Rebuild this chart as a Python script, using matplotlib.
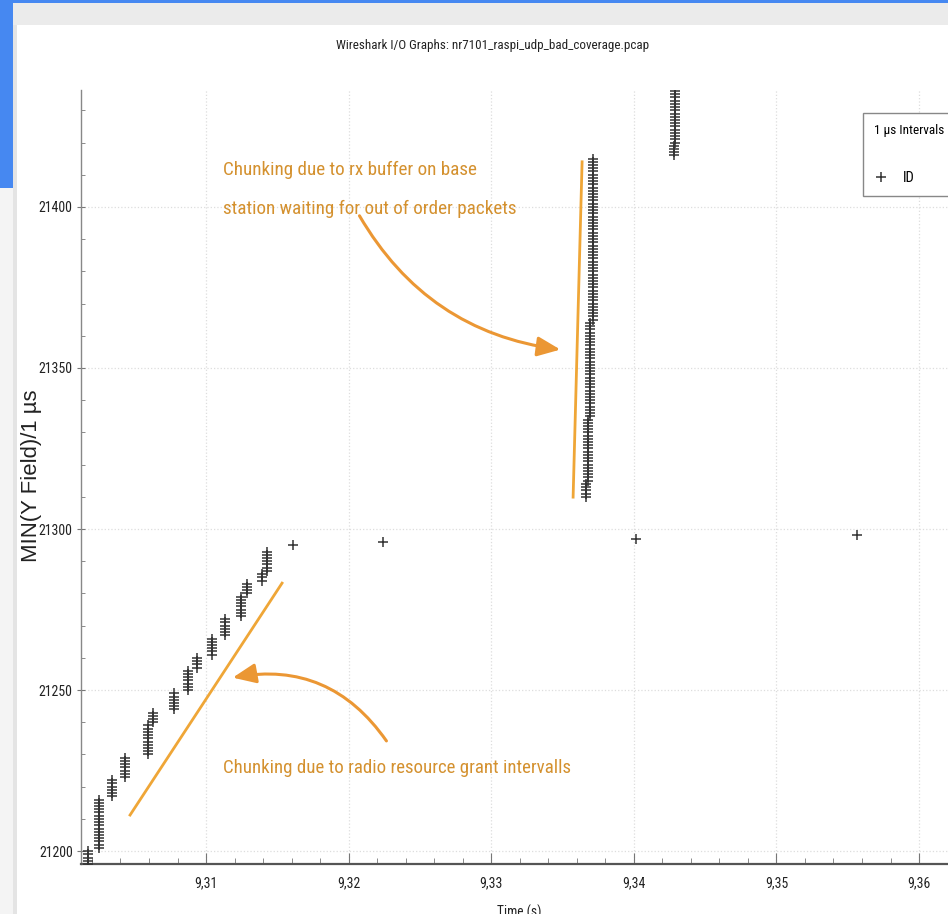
#!/usr/bin/env python

import numpy as np
import matplotlib
matplotlib.use("Agg")
import matplotlib.pyplot as plt
from matplotlib.patches import Rectangle, FancyArrowPatch
from matplotlib.lines import Line2D
from matplotlib.ticker import MultipleLocator, FuncFormatter
from matplotlib.font_manager import fontManager

# chunks of consecutive packet IDs: arrival time, first id, last id
chunk_time = [9.30173, 9.30250, 9.30341, 9.30432, 9.30593, 9.30628, 9.30776,
              9.30874, 9.30937, 9.31042, 9.31133, 9.31245, 9.31288, 9.31393,
              9.31428, 9.31610, 9.32241, 9.34015, 9.35565,
              9.33665, 9.33679, 9.33693, 9.33710, 9.34279, 9.34289]
chunk_first = [21196, 21201, 21217, 21223, 21230, 21240, 21244,
               21250, 21257, 21261, 21267, 21273, 21280, 21284,
               21287, 21295, 21296, 21297, 21298,
               21310, 21315, 21335, 21365, 21416, 21420]
chunk_last = [21200, 21216, 21222, 21229, 21239, 21243, 21249,
              21256, 21260, 21266, 21272, 21279, 21283, 21286,
              21293, 21295, 21296, 21297, 21298,
              21314, 21334, 21364, 21415, 21419, 21440]

title = "Wireshark I/O Graphs: nr7101_raspi_udp_bad_coverage.pcap"
note_top = ["Chunking due to rx buffer on base",
            "station waiting for out of order packets"]
note_bottom = "Chunking due to radio resource grant intervalls"

# hand drawn marks on the slide (data coords)
rx_line_t = [9.33574, 9.33637]
rx_line_v = [21309.9, 21414.0]
grant_line_t = [9.30467, 9.31533]
grant_line_v = [21211.2, 21283.2]
rx_arrow = [(9.32066, 21398.0), (9.33504, 21355.6)]
grant_arrow = [(9.32276, 21233.5), (9.31168, 21253.7)]

names = {f.name for f in fontManager.ttflist}
narrow = None
for fam in ["Liberation Sans Narrow", "Roboto Condensed", "Liberation Sans"]:
    if fam in names:
        narrow = fam
        break
NARROW = [narrow, "DejaVu Sans"] if narrow else ["DejaVu Sans"]
WIDE = ["Liberation Sans", "DejaVu Sans"]

ORANGE = "#efa637"
ARROW = "#eb9734"
TEXT_OR = "#d4912f"
INK = "#333333"

W, H = 948, 914
fig = plt.figure(figsize=(W / 100, H / 100), dpi=100)
renderer = fig.canvas.get_renderer()


def fx(px):
    return px / W


def fy(py):
    return 1 - py / H


def size_for(s, width_px, family=NARROW, rotation=0):
    # font size that makes s span width_px on the screenshot
    tmp = fig.text(0, 0, s, family=family, fontsize=10, rotation=rotation)
    bb = tmp.get_window_extent(renderer)
    tmp.remove()
    w = bb.height if rotation else bb.width
    return 10 * width_px / w


def box(x0, y0, x1, y1, color):
    fig.add_artist(Rectangle((fx(x0), fy(y1)), (x1 - x0) / W, (y1 - y0) / H,
                             transform=fig.transFigure, color=color, lw=0,
                             zorder=0))


# screenshot frame
box(0, 3, W, 25, "#ebebeb")
box(0, 0, W, 3, "#4688f1")
box(0, 188, 13, H, "#f4f4f4")
box(13, 25, 17, H, "#e4e4e4")
box(0, 0, 13, 188, "#4688f1")

ax = fig.add_axes([fx(81), fy(864), fx(948) - fx(81), fy(90) - fy(864)])

t = np.concatenate([np.full(b - a + 1, tt)
                    for tt, a, b in zip(chunk_time, chunk_first, chunk_last)])
ids = np.concatenate([np.arange(a, b + 1)
                      for a, b in zip(chunk_first, chunk_last)])
ax.plot(t, ids, ls="none", marker="+", ms=7, mew=1.1, color=INK, zorder=3)

ax.set_xlim(9.30123, 9.36203)
ax.set_ylim(21196.0, 21436.3)

ax.xaxis.set_major_locator(MultipleLocator(0.01))
ax.xaxis.set_minor_locator(MultipleLocator(0.002))
ax.yaxis.set_major_locator(MultipleLocator(50))
ax.yaxis.set_minor_locator(MultipleLocator(10))
ax.xaxis.set_major_formatter(FuncFormatter(lambda v, p: f"{v:.2f}".replace(".", ",")))
ax.yaxis.set_major_formatter(FuncFormatter(lambda v, p: f"{v:.0f}"))

ax.grid(True, which="major", color="#dddddd", ls=":", lw=0.9)
ax.set_axisbelow(True)
for s in ["top", "right"]:
    ax.spines[s].set_visible(False)
ax.spines["bottom"].set_color("#555555")
ax.spines["bottom"].set_linewidth(1.6)
ax.spines["left"].set_color("#888888")
ax.spines["left"].set_linewidth(1.0)

ysize = size_for("21400", 34)
xsize = size_for("9,31", 23)
ax.tick_params(axis="x", which="major", direction="in", length=8, color="#777777",
               pad=9, labelsize=xsize, labelcolor="#222222")
ax.tick_params(axis="x", which="minor", direction="in", length=4, color="#777777")
ax.tick_params(axis="y", which="major", direction="inout", length=6, color="#777777",
               pad=3, labelsize=ysize, labelcolor="#222222")
ax.tick_params(axis="y", which="minor", direction="in", length=3, color="#777777")
for lab in ax.get_xticklabels() + ax.get_yticklabels():
    lab.set_family(NARROW)

# annotations
ax.plot(rx_line_t, rx_line_v, color=ORANGE, lw=2.0, zorder=2)
ax.plot(grant_line_t, grant_line_v, color=ORANGE, lw=2.0, zorder=2)
for (a, b), rad in [(rx_arrow, 0.25), (grant_arrow, 0.33)]:
    ax.add_patch(FancyArrowPatch(a, b, connectionstyle=f"arc3,rad={rad}",
                                 arrowstyle="-|>,head_length=0.7,head_width=0.3",
                                 mutation_scale=20, color=ARROW, lw=2.2,
                                 zorder=2))

nsize = size_for(note_top[0], 254)
fig.text(fx(223), fy(170), note_top[0], ha="left", va="center",
         family=NARROW, fontsize=nsize, color=TEXT_OR)
fig.text(fx(223), fy(209), note_top[1], ha="left", va="center",
         family=NARROW, fontsize=nsize, color=TEXT_OR)
fig.text(fx(223), fy(768), note_bottom, ha="left", va="center",
         family=NARROW, fontsize=size_for(note_bottom, 347), color=TEXT_OR)

fig.text(fx(493), fy(45), title, ha="center", va="center",
         family=NARROW, fontsize=size_for(title, 310), color="#222222")
fig.text(fx(31), fy(476), "MIN(Y Field)/1 µs", rotation=90, ha="center",
         va="center", family=WIDE, color="#222222",
         fontsize=size_for("MIN(Y Field)/1 µs", 173, WIDE, 90))
fig.text(fx(519), fy(905), "Time (s)", ha="center", va="top",
         family=NARROW, fontsize=size_for("Time (s)", 44), color="#222222")

lsize = size_for("1 µs Intervals", 70)
handles = [Line2D([], [], ls="none", marker="+", ms=7, mew=1.1, color=INK,
                  label="ID")]
leg = ax.legend(handles=handles, title="1 µs Intervals", loc="upper left",
                bbox_to_anchor=(fx(863), fy(113)), bbox_transform=fig.transFigure,
                borderaxespad=0, frameon=True, fancybox=False, framealpha=1,
                edgecolor="#888888", borderpad=0.75, labelspacing=2.3,
                handlelength=1.0, handletextpad=1.0,
                prop={"family": NARROW, "size": lsize * 1.1},
                title_fontproperties={"family": NARROW, "size": lsize})
leg.get_frame().set_linewidth(1.0)
leg._legend_box.align = "left"

fig.savefig("out.png", dpi=100)
